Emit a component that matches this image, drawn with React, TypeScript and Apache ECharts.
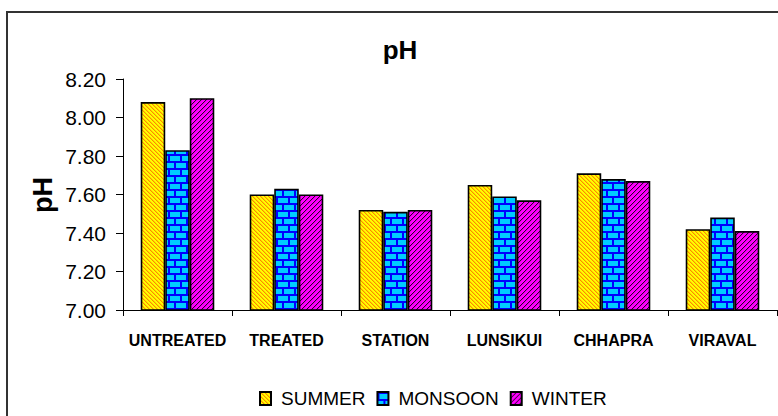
import React, { useEffect, useRef } from "react";
import * as echarts from "echarts";

const categories = ["UNTREATED", "TREATED", "STATION", "LUNSIKUI", "CHHAPRA", "VIRAVAL"];
const seriesNames = ["SUMMER", "MONSOON", "WINTER"];
const summer = [8.08, 7.6, 7.52, 7.65, 7.71, 7.42];
const monsoon = [7.83, 7.63, 7.51, 7.59, 7.68, 7.48];
const winter = [8.1, 7.6, 7.52, 7.57, 7.67, 7.41];
const yTicks = { min: 7.0, max: 8.2, interval: 0.2 };
const titleText = "pH";
const yName = "pH";

const FONT = "'Liberation Sans', Arial, sans-serif";

function makePattern(w: number, h: number, fn: (x: number, y: number) => string) {
  const c = document.createElement("canvas");
  c.width = w;
  c.height = h;
  const ctx = c.getContext("2d")!;
  for (let y = 0; y < h; y++) {
    for (let x = 0; x < w; x++) {
      ctx.fillStyle = fn(x, y);
      ctx.fillRect(x, y, 1, 1);
    }
  }
  return { image: c, repeat: "repeat", imageWidth: w, imageHeight: h } as any;
}

export default function App() {
  const ref = useRef<HTMLDivElement>(null);
  useEffect(() => {
    if (!ref.current) return;
    const chart = echarts.init(ref.current, null, { renderer: "svg" });

    const summerPat = makePattern(4, 4, (x, y) => {
      const k = (x - y + 8) % 4;
      return k === 0 ? "#FF8800" : k === 1 ? "#FFD000" : "#FFFF00";
    });
    const winterPat = makePattern(5, 5, (x, y) => {
      const k = (x + y) % 5;
      return k === 0 ? "#2A002A" : k === 1 ? "#E000E0" : "#FF00FF";
    });
    const monsoonPat = makePattern(12, 14, (x, y) => {
      const r = Math.floor(y / 7);
      const yy = y % 7;
      if (yy < 2) return "#0000FF";
      const off = r % 2 ? 6 : 0;
      const xx = (x + off) % 12;
      if (xx < 2) return "#0000FF";
      return "#00CCFF";
    });
    const pats = [summerPat, monsoonPat, winterPat];
    const datas = [summer, monsoon, winter];

    chart.setOption({
      animation: false,
      backgroundColor: "#ffffff",
      grid: { left: 123, right: 1, top: 79, bottom: 106, containLabel: false },
      legend: {
        data: seriesNames,
        left: 254,
        top: 384,
        itemWidth: 11,
        itemHeight: 13,
        itemGap: 11,
        icon: "rect",
        textStyle: { fontFamily: FONT, fontSize: 19, color: "#000", padding: [0, 0, 0, 5] },
      },
      xAxis: {
        type: "category",
        data: categories,
        axisLine: { lineStyle: { color: "#000", width: 1 } },
        axisTick: { show: true, length: 6, lineStyle: { color: "#000" } },
        axisLabel: {
          color: "#000",
          fontFamily: FONT,
          fontWeight: "bold",
          fontSize: 16,
          margin: 22,
          interval: 0,
        },
      },
      yAxis: {
        type: "value",
        min: yTicks.min,
        max: yTicks.max,
        interval: yTicks.interval,
        axisLine: { show: true, lineStyle: { color: "#000", width: 1 } },
        axisTick: { show: true, length: 7, lineStyle: { color: "#000" } },
        splitLine: { show: false },
        axisLabel: {
          color: "#000",
          fontFamily: FONT,
          fontSize: 21,
          margin: 17,
          formatter: (v: number) => v.toFixed(2),
        },
      },
      series: seriesNames.map((name, i) => ({
        name,
        type: "bar",
        data: datas[i],
        barWidth: "22.5%",
        barGap: "0%",
        itemStyle: { color: pats[i], borderColor: "#000", borderWidth: 1.6 },
      })),
      graphic: [
        {
          type: "rect",
          shape: { x: 7, y: 12, width: 820, height: 440 },
          style: { fill: "none", stroke: "#333", lineWidth: 2 },
          silent: true,
        },
        {
          type: "text",
          x: 400,
          y: 50,
          style: {
            text: titleText,
            align: "center",
            verticalAlign: "middle",
            font: `bold 26px ${FONT}`,
            fill: "#000",
          },
        },
        {
          type: "text",
          x: 43,
          y: 195,
          rotation: Math.PI / 2,
          style: {
            text: yName,
            align: "center",
            verticalAlign: "middle",
            font: `bold 27px ${FONT}`,
            fill: "#000",
          },
        },
      ],
    });
    return () => chart.dispose();
  }, []);
  return (
    <div
      ref={ref}
      style={{ position: "fixed", left: 0, top: 0, width: 778, height: 416, background: "#fff" }}
    />
  );
}
